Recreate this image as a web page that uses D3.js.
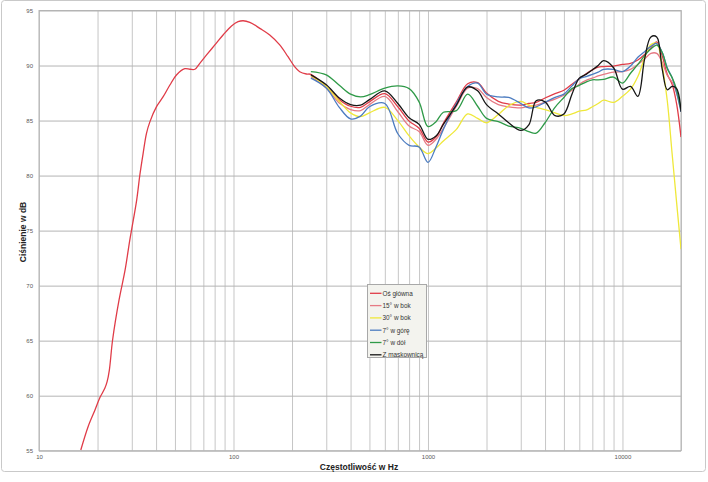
<!DOCTYPE html>
<html><head><meta charset="utf-8">
<script src="https://cdn.jsdelivr.net/npm/d3@7"></script>
<style>
html,body{margin:0;padding:0;background:#fff;}
svg{display:block;font-family:"Liberation Sans",Arial,sans-serif;}
</style></head>
<body><svg id="chart" width="708" height="482"></svg>
<script>
// ---- data ----
const xTickLabels = [10, 100, 1000, 10000];
const yTickLabels = [55, 60, 65, 70, 75, 80, 85, 90, 95];
const seriesNames = ["Oś główna", "15° w bok", "30° w bok", "7° w górę", "7° w dół", "Z maskownicą"];
const seriesColors = ["#e03c48", "#e67a84", "#efe83a", "#4c7cc0", "#2f9a48", "#161616"];

// low-frequency part of the main-axis curve
const bassHz = [16.4, 17.9, 19.4, 20.6, 21.8, 22.4, 23.0, 23.9, 25.8, 27.7, 29.3, 31.8, 33.0, 34.3, 35.7, 37.2, 40.2, 43.5, 47.1, 50.9, 56.2, 59.7, 63.3, 67.1, 72.7, 80.2, 88.4, 97.7, 105.6, 112, 121.3, 136.5, 153.6, 172.9, 190.7, 206.4, 219, 237];
const bassDb = [55.06, 57.2, 58.7, 59.85, 60.67, 61.27, 62.33, 65.06, 68.7, 71.4, 74.14, 77.8, 80.05, 82.0, 83.84, 84.9, 86.26, 87.17, 88.23, 89.14, 89.71, 89.66, 89.66, 90.2, 90.96, 91.87, 92.77, 93.59, 93.98, 94.07, 93.93, 93.38, 92.77, 91.87, 90.8, 89.89, 89.44, 89.23];

// shared frequency grid for the six measurements
const freqHz = [250, 300, 350, 400, 450, 500, 600, 700, 800, 900, 1000, 1100, 1200, 1400, 1600, 1800, 2000, 2300, 2600, 3000, 3300, 3600, 4000, 4500, 5000, 5500, 6000, 6500, 7000, 7500, 8000, 9000, 10000, 11000, 12000, 13000, 14000, 15000, 16000, 17000, 18000, 19000, 20000];
const osGlowna = [89.2, 88.1, 86.9, 86.3, 86.2, 86.7, 87.45, 86.25, 84.95, 84.3, 83.05, 83.5, 84.75, 86.7, 88.35, 88.45, 87.5, 86.75, 86.5, 86.4, 86.55, 86.65, 87.05, 87.45, 87.75, 88.3, 88.8, 89.25, 89.6, 89.85, 89.9, 89.95, 90.1, 90.2, 90.5, 91.0, 91.6, 92.15, 90.9, 89.2, 88.3, 86.5, 83.5];
const bok15 = [89.0, 87.95, 86.6, 86.0, 85.9, 86.45, 87.2, 85.8, 84.5, 84.0, 82.75, 83.3, 84.3, 86.3, 87.95, 87.9, 87.1, 86.45, 86.25, 86.15, 86.3, 86.4, 86.65, 86.95, 87.3, 87.75, 88.3, 88.65, 88.85, 89.05, 89.2, 89.4, 89.45, 89.65, 90.1, 90.6, 91.1, 91.1, 90.3, 89.1, 88.5, 87.5, 85.9];
const bok30 = [89.1, 88.1, 86.75, 85.7, 85.35, 85.7, 86.2, 85.0, 83.6, 82.6, 82.0, 82.5, 83.15, 84.2, 85.6, 85.2, 84.8, 85.55, 86.35, 86.75, 86.4, 86.2, 86.0, 85.7, 85.45, 85.6, 85.85, 85.95, 86.25, 86.55, 86.85, 86.65, 87.2, 87.85, 89.0, 90.7, 91.9, 92.0, 90.0, 86.8, 82.0, 77.5, 73.3];
const gora7 = [88.85, 87.95, 86.2, 85.15, 85.4, 86.25, 86.55, 83.8, 82.75, 82.6, 81.2, 82.6, 84.2, 86.55, 88.1, 88.4, 87.4, 87.15, 87.1, 86.55, 86.15, 86.25, 86.65, 87.1, 87.4, 88.15, 88.8, 89.0, 89.2, 89.4, 89.65, 89.65, 89.45, 89.95, 90.75, 91.25, 91.75, 92.0, 91.2, 89.8, 88.9, 87.5, 85.8];
const dol7 = [89.45, 89.15, 88.2, 87.4, 87.15, 87.35, 87.95, 88.15, 87.9, 86.7, 84.45, 84.9, 85.75, 85.9, 87.4, 86.3, 85.2, 84.9, 84.5, 84.3, 84.0, 83.85, 84.8, 86.2, 87.1, 87.9, 88.2, 88.5, 88.7, 88.7, 88.75, 88.95, 88.4, 89.3, 90.1, 90.9, 91.5, 91.85, 91.2, 89.7, 88.9, 87.8, 86.0];
const maskownica = [89.15, 88.25, 87.05, 86.45, 86.4, 86.9, 87.7, 86.55, 85.25, 84.65, 83.3, 83.6, 84.65, 86.4, 88.05, 87.7, 86.45, 85.6, 84.8, 84.1, 84.6, 86.8, 86.7, 85.45, 85.6, 87.4, 88.85, 89.2, 89.6, 90.0, 90.45, 89.8, 87.85, 88.1, 87.2, 90.6, 92.6, 92.6, 89.7, 87.8, 88.1, 87.9, 85.8];

// ---- build ----
const svg = d3.select("#chart");
const L = 39, R = 681, T = 10.5, B = 450.7;
const x = d3.scaleLog().domain([10, 20000]).range([L, R]);
const y = d3.scaleLinear().domain([55, 95]).range([B, T]);

// outer chart-area border
svg.append("rect").attr("x", 1.5).attr("y", 0.5).attr("width", 704).attr("height", 471)
  .attr("rx", 3).attr("fill", "#fff").attr("stroke", "#c9c9c9");

// vertical minor grid (1..9 per decade)
const gridX = [];
[10, 100, 1000, 10000].forEach(d => { for (let k = 1; k <= 9; k++) if (d * k <= 20000) gridX.push(d * k); });
gridX.push(20000);
svg.append("g").attr("transform", `translate(0,${B})`)
  .call(d3.axisBottom(x).tickValues(gridX).tickSize(-(B - T)).tickFormat(""))
  .call(g => g.select(".domain").remove())
  .call(g => g.selectAll("line").attr("stroke", "#c6c6c6").attr("stroke-width", 1));

// horizontal grid
svg.append("g").attr("transform", `translate(${L},0)`)
  .call(d3.axisLeft(y).tickValues(yTickLabels).tickSize(-(R - L)).tickFormat(""))
  .call(g => g.select(".domain").remove())
  .call(g => g.selectAll("line").attr("stroke", "#b4b4b4").attr("stroke-width", 1));

// plot border
svg.append("rect").attr("x", L).attr("y", T).attr("width", R - L).attr("height", B - T)
  .attr("fill", "none").attr("stroke", "#b4b4b4");

// tick labels
svg.append("g").attr("transform", `translate(${L},0)`)
  .call(d3.axisLeft(y).tickValues(yTickLabels).tickSize(0).tickPadding(6).tickFormat(d3.format("d")))
  .call(g => g.select(".domain").remove())
  .call(g => g.selectAll("text").attr("fill", "#595959").style("font-size", "6px"));
svg.append("g").attr("transform", `translate(0,${B})`)
  .call(d3.axisBottom(x).tickValues(xTickLabels).tickSize(0).tickPadding(4).tickFormat(d3.format("d")))
  .call(g => g.select(".domain").remove())
  .call(g => g.selectAll("text").attr("fill", "#595959").style("font-size", "6px"));

// axis titles
svg.append("text").attr("x", 359).attr("y", 469.5).attr("text-anchor", "middle")
  .style("font-size", "8.5px").style("font-weight", "bold").attr("fill", "#222")
  .text("Częstotliwość w Hz");
svg.append("text").attr("transform", "translate(25.5,232) rotate(-90)").attr("text-anchor", "middle")
  .style("font-size", "8.5px").style("font-weight", "bold").attr("fill", "#222")
  .text("Ciśnienie w dB");

// series
const mainHz = bassHz.concat(freqHz);
const mainDb = bassDb.concat(osGlowna);
const series = [
  mainHz.map((f, i) => [f, mainDb[i]]),
  freqHz.map((f, i) => [f, bok15[i]]),
  freqHz.map((f, i) => [f, bok30[i]]),
  freqHz.map((f, i) => [f, gora7[i]]),
  freqHz.map((f, i) => [f, dol7[i]]),
  freqHz.map((f, i) => [f, maskownica[i]])
];
svg.append("clipPath").attr("id", "clip").append("rect")
  .attr("x", L).attr("y", T).attr("width", R - L).attr("height", B - T);
const line = d3.line().x(d => x(d[0])).y(d => y(d[1])).curve(d3.curveCatmullRom.alpha(0.5));
svg.append("g").attr("clip-path", "url(#clip)").selectAll("path").data(series).join("path")
  .attr("d", line).attr("fill", "none")
  .attr("stroke", (d, i) => seriesColors[i]).attr("stroke-width", 1.3);

// legend
const lg = svg.append("g");
lg.append("rect").attr("x", 367.5).attr("y", 284.5).attr("width", 59).attr("height", 73)
  .attr("fill", "#f3f3ee").attr("stroke", "#a8a8a8");
const items = lg.selectAll("g.it").data(seriesNames).join("g")
  .attr("transform", (d, i) => `translate(0,${293.3 + i * 12.3})`);
items.append("line").attr("x1", 370).attr("x2", 381.5).attr("y1", 0).attr("y2", 0)
  .attr("stroke", (d, i) => seriesColors[i]).attr("stroke-width", 1.3);
items.append("text").attr("x", 382.5).attr("y", 2.3).style("font-size", "6.4px").attr("fill", "#333")
  .text(d => d);
</script></body></html>
